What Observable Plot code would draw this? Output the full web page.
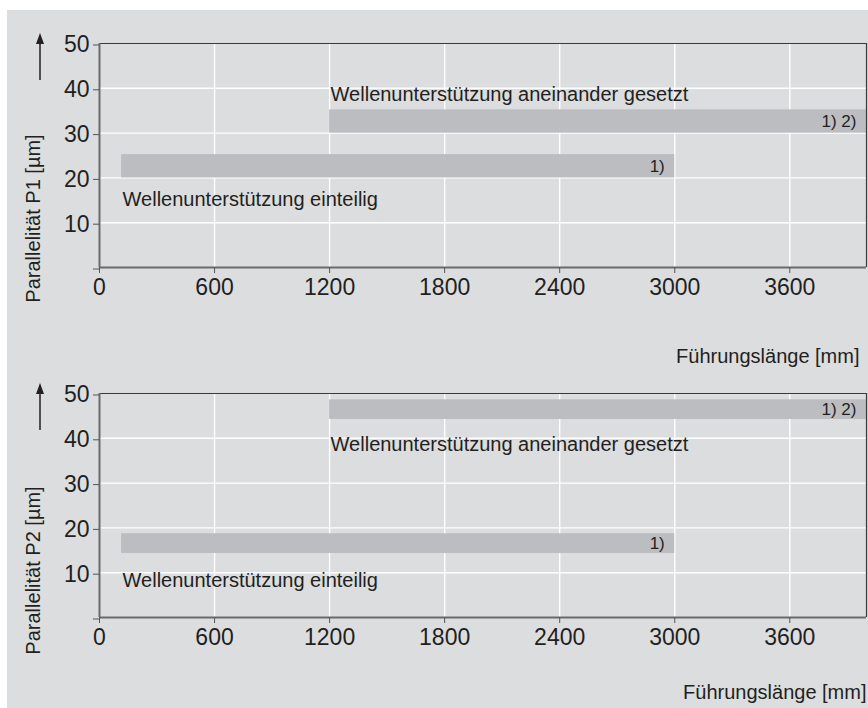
<!DOCTYPE html>
<html><head><meta charset="utf-8">
<script src="https://cdn.jsdelivr.net/npm/d3@7"></script>
<script src="https://cdn.jsdelivr.net/npm/@observablehq/plot@0.6"></script>
<style>
html,body{margin:0;padding:0;background:#fff;}
#wrap{position:relative;width:868px;height:708px;overflow:hidden;}
#bg{position:absolute;left:7px;top:10px;right:0;bottom:0;background:#dcdddf;}
.panel{position:absolute;left:0;}
</style></head><body>
<div id="wrap"><div id="bg"></div><div id="p1" class="panel" style="top:0"></div><div id="p2" class="panel" style="top:350px"></div></div>
<script>
// ---- data ----
const xTicks = [0, 600, 1200, 1800, 2400, 3000, 3600];
const yTicks = [0, 10, 20, 30, 40, 50];
const xDomain = [0, 4000];
const yDomain = [0, 50];
const supportTypes = ["Wellenunterstützung einteilig", "Wellenunterstützung aneinander gesetzt"];
const lengthFrom = [115, 1200];
const lengthTo = [3000, 4000];
const footnotes = ["1)", "1) 2)"];
const p1Low = [20, 30];
const p1High = [25.2, 35.2];
const p2Low = [14.3, 44.2];
const p2High = [18.7, 48.6];
const yTitles = ["Parallelität P1 [µm]", "Parallelität P2 [µm]"];
const xTitle = "Führungslänge [mm]";

// ---- chart ----
const font = "'Liberation Sans', Arial, Helvetica, sans-serif";
const ink = "#231f20";
const M = {left: 99, right: 2, top: 43};

function panel({low, high, yTitle, height, marginBottom, xTitleDx, xTitleDy, yTitleDy, place}) {
  const rows = supportTypes.map((name, i) => ({name, from: lengthFrom[i], to: lengthTo[i], low: low[i], high: high[i], note: footnotes[i]}));
  const svg = Plot.plot({
    width: 868, height,
    marginLeft: M.left, marginRight: M.right, marginTop: M.top, marginBottom,
    style: {background: "transparent", fontFamily: font, color: ink, overflow: "visible"},
    x: {domain: xDomain},
    y: {domain: yDomain},
    marks: [
      Plot.gridX(xTicks.filter(d => d > 0), {stroke: "#fff", strokeOpacity: 1, strokeWidth: 1.4}),
      Plot.gridY(yTicks.filter(d => d > 0 && d < 50), {stroke: "#fff", strokeOpacity: 1, strokeWidth: 1.4}),
      Plot.rect(rows, {x1: "from", x2: "to", y1: "low", y2: "high", fill: "#bcbdc0"}),
      Plot.ruleY([yDomain[1]], {stroke: "#3a3a3a", strokeWidth: 1.2}),
      Plot.ruleX([xDomain[1]], {stroke: "#3a3a3a", strokeWidth: 1.2}),
      Plot.ruleX([xDomain[0]], {stroke: "#6a6a6a", strokeWidth: 2}),
      Plot.ruleY([yDomain[0]], {stroke: "#6a6a6a", strokeWidth: 2}),
      Plot.axisY(yTicks, {tickSize: 6, tickPadding: 4, tickFormat: d => d === 0 ? "" : String(d), fontSize: 23, dy: 1.5, stroke: "#555", fill: ink, label: null}),
      Plot.axisX(xTicks, {tickSize: 6, tickPadding: 5, tickFormat: d => String(d), fontSize: 23, stroke: "#555", fill: ink, label: null}),
      ...place.map((p, i) => Plot.text([rows[i]], {x: "from", y: p.edge, text: "name", textAnchor: "start", lineAnchor: p.anchor, dx: 1, dy: p.dy, fontSize: 20, fill: ink})),
      Plot.text(rows, {x: "to", y: d => (d.low + d.high) / 2, text: "note", textAnchor: "end", dx: -10, fontSize: 17, fill: ink}),
      Plot.text([xTitle], {frameAnchor: "bottom-right", text: d => d, textAnchor: "end", lineAnchor: "bottom", dx: xTitleDx, dy: xTitleDy, fontSize: 20, fill: ink}),
      Plot.text([yTitle], {frameAnchor: "left", text: d => d, rotate: -90, textAnchor: "middle", lineAnchor: "middle", dx: -66, dy: yTitleDy, fontSize: 20, fill: ink})
    ]
  });
  // decorative upward arrow next to the y title
  const ax = M.left - 59, top = M.top - 10;
  const g = d3.select(svg).append("g");
  g.append("line").attr("x1", ax).attr("x2", ax).attr("y1", top + 47).attr("y2", top + 8).attr("stroke", ink).attr("stroke-width", 1.5);
  g.append("path").attr("d", `M${ax},${top}L${ax - 4},${top + 11}L${ax + 4},${top + 11}Z`).attr("fill", ink);
  return svg;
}

document.getElementById("p1").append(panel({
  low: p1Low, high: p1High, yTitle: yTitles[0], height: 372, marginBottom: 105,
  xTitleDx: -7, xTitleDy: 95, yTitleDy: 63,
  place: [{edge: "low", anchor: "top", dy: 14}, {edge: "high", anchor: "bottom", dy: -9}]
}));
document.getElementById("p2").append(panel({
  low: p2Low, high: p2High, yTitle: yTitles[1], height: 358, marginBottom: 91,
  xTitleDx: 0, xTitleDy: 81, yTitleDy: 65,
  place: [{edge: "low", anchor: "top", dy: 19}, {edge: "low", anchor: "top", dy: 17}]
}));
</script>
</body></html>
